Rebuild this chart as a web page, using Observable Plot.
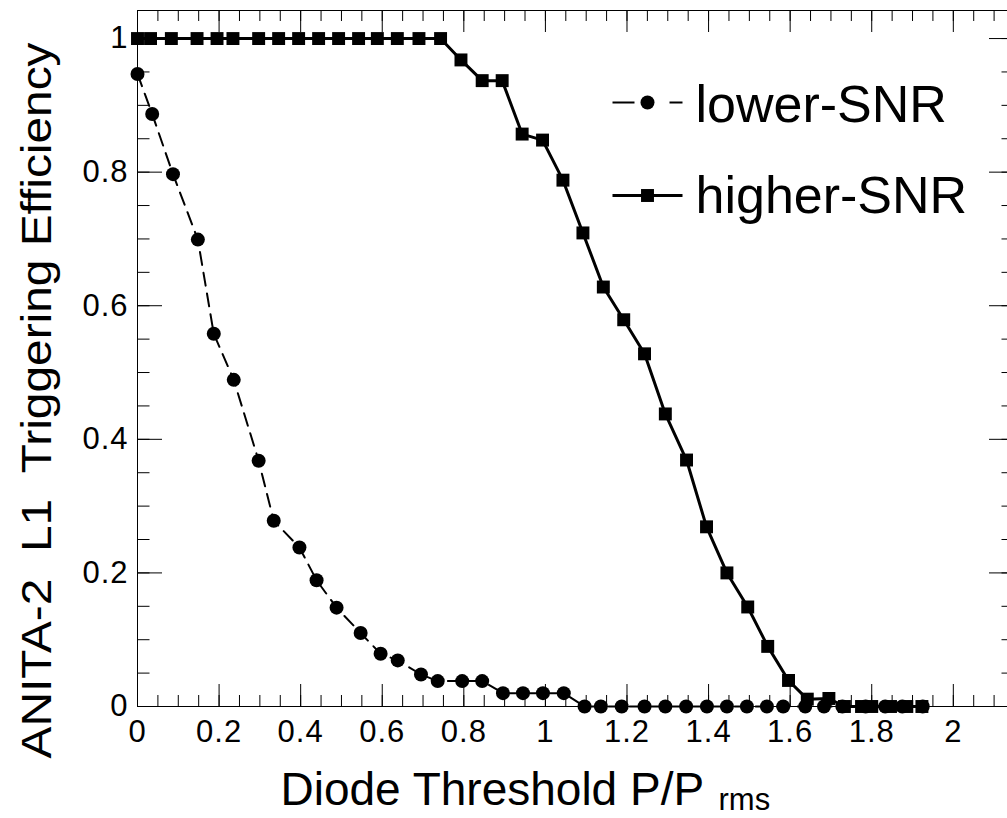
<!DOCTYPE html>
<html><head><meta charset="utf-8">
<script src="https://cdn.jsdelivr.net/npm/d3@7"></script>
<script src="https://cdn.jsdelivr.net/npm/@observablehq/plot@0.6"></script>
<style>
html,body{margin:0;padding:0;background:#fff;overflow:hidden;}
#chart{width:1007px;height:818px;overflow:hidden;position:relative;}
#chart svg{overflow:hidden;display:block;}
#chart svg g[aria-label="x-axis tick label"] text,
#chart svg g[aria-label="y-axis tick label"] text{letter-spacing:1px;}
</style></head><body><div id="chart"></div>
<script>
// ---- data ----
const lowerX = [0, 0.036, 0.087, 0.148, 0.187, 0.236, 0.297, 0.334, 0.397, 0.439, 0.488, 0.547, 0.596, 0.638, 0.695, 0.736, 0.796, 0.845, 0.896, 0.945, 0.994, 1.045,
  1.096, 1.136, 1.187, 1.243, 1.294, 1.345, 1.396, 1.445, 1.494, 1.543, 1.583, 1.637, 1.683, 1.728, 1.785, 1.833, 1.875, 1.925];
const lowerY = [0.947, 0.887, 0.797, 0.699, 0.558, 0.489, 0.368, 0.278, 0.238, 0.189, 0.148, 0.110, 0.079, 0.069, 0.048, 0.038, 0.038, 0.038, 0.020, 0.020, 0.020, 0.020,
  0, 0, 0, 0, 0, 0, 0, 0, 0, 0, 0, 0, 0, 0, 0, 0, 0, 0];
const higherX = [0, 0.032, 0.083, 0.146, 0.195, 0.234, 0.297, 0.346, 0.395, 0.444, 0.493, 0.542, 0.588, 0.637, 0.690, 0.743,
  0.793, 0.845, 0.894, 0.943, 0.993, 1.043, 1.092, 1.142, 1.192, 1.243, 1.294, 1.346, 1.395, 1.445, 1.496, 1.545, 1.596,
  1.642, 1.695, 1.733, 1.775, 1.800, 1.846, 1.886, 1.923];
const higherY = [1, 1, 1, 1, 1, 1, 1, 1, 1, 1, 1, 1, 1, 1, 1, 1,
  0.968, 0.937, 0.937, 0.857, 0.848, 0.788, 0.709, 0.628, 0.579, 0.528, 0.438, 0.369, 0.269, 0.200, 0.149, 0.090, 0.039,
  0.011, 0.012, 0, 0, 0, 0, 0, 0];
const seriesNames = ["lower-SNR", "higher-SNR"];
const xTickLabels = [0, 0.2, 0.4, 0.6, 0.8, 1, 1.2, 1.4, 1.6, 1.8, 2];
const yTickLabels = [0, 0.2, 0.4, 0.6, 0.8, 1];
const xTitle = "Diode Threshold P/P";
const xTitleSub = "rms";
const yTitle = "ANITA-2  L1  Triggering Efficiency";

// ---- build tables ----
const lower = lowerX.map((x, i) => ({x, y: lowerY[i]}));
const higher = higherX.map((x, i) => ({x, y: higherY[i]}));
const minorX = d3.range(0, 44).map(i => +(i * 0.05).toFixed(2));
const majorX = d3.range(0, 11).map(i => +(i * 0.2).toFixed(2));
const minorY = d3.range(0, 21).map(i => +(i * 0.05).toFixed(2));
const majorY = d3.range(0, 6).map(i => +(i * 0.2).toFixed(2));
const fmt = d => String(+(+d).toFixed(2));

const W = 1007, H = 818, mL = 137, mT = 10, mB = 112, mR = -7;
const plotH = H - mT - mB, plotW = W - mL - mR;
const font = "'Liberation Sans', Arial, Helvetica, sans-serif";

const chart = Plot.plot({
  width: W, height: H,
  marginLeft: mL, marginTop: mT, marginBottom: mB, marginRight: mR,
  style: {fontFamily: font, background: "white", color: "black", overflow: "hidden"},
  x: {domain: [0, 2.15]},
  y: {domain: [0, 1.042]},
  marks: [
    Plot.frame({stroke: "black", strokeWidth: 1}),
    Plot.ruleX(minorX, {x: d => d, insetTop: plotH - 11, stroke: "black"}),
    Plot.ruleX(majorX, {x: d => d, insetTop: plotH - 22, stroke: "black"}),
    Plot.ruleX(minorX, {x: d => d, insetBottom: plotH - 11, stroke: "black"}),
    Plot.ruleX(majorX, {x: d => d, insetBottom: plotH - 22, stroke: "black"}),
    Plot.ruleY(minorY, {y: d => d, insetRight: plotW - 12.5, stroke: "black"}),
    Plot.ruleY(majorY, {y: d => d, insetRight: plotW - 25, stroke: "black"}),
    Plot.ruleY(minorY, {y: d => d, insetLeft: plotW - 12.5, stroke: "black"}),
    Plot.ruleY(majorY, {y: d => d, insetLeft: plotW - 25, stroke: "black"}),
    Plot.axisX({ticks: xTickLabels, tickSize: 0, tickPadding: 13, fontSize: 31, label: null, tickFormat: fmt}),
    Plot.axisY({ticks: yTickLabels, tickSize: 0, tickPadding: 9, fontSize: 31, label: null, tickFormat: fmt}),
    Plot.line(lower, {x: "x", y: "y", stroke: "black", strokeWidth: 2, strokeDasharray: "13,8"}),
    Plot.dot(lower, {x: "x", y: "y", r: 7, symbol: "circle", fill: "black", stroke: "none"}),
    Plot.line(higher, {x: "x", y: "y", stroke: "black", strokeWidth: 3}),
    Plot.dot(higher, {x: "x", y: "y", r: 7.3, symbol: "square", fill: "black", stroke: "none"}),
    // legend
    Plot.vector([seriesNames[0]], {frameAnchor: "top-left", anchor: "start", rotate: 90, length: 22, r: 0, dx: 475, dy: 92, stroke: "black", strokeWidth: 2, strokeLinecap: "butt"}),
    Plot.vector([seriesNames[0]], {frameAnchor: "top-left", anchor: "start", rotate: 90, length: 13, r: 0, dx: 532, dy: 92, stroke: "black", strokeWidth: 2, strokeLinecap: "butt"}),
    Plot.dot([seriesNames[0]], {frameAnchor: "top-left", dx: 510, dy: 92, r: 7, symbol: "circle", fill: "black"}),
    Plot.text([seriesNames[0]], {frameAnchor: "top-left", text: d => d, dx: 558, dy: 95, textAnchor: "start", lineAnchor: "middle", fontSize: 52}),
    Plot.vector([seriesNames[1]], {frameAnchor: "top-left", anchor: "start", rotate: 90, length: 70, r: 0, dx: 475, dy: 185, stroke: "black", strokeWidth: 3, strokeLinecap: "butt"}),
    Plot.dot([seriesNames[1]], {frameAnchor: "top-left", dx: 510, dy: 185, r: 7.3, symbol: "square", fill: "black"}),
    Plot.text([seriesNames[1]], {frameAnchor: "top-left", text: d => d, dx: 558, dy: 186, textAnchor: "start", lineAnchor: "middle", fontSize: 52}),
    // axis titles
    Plot.text([xTitle], {frameAnchor: "bottom-left", text: d => d, dx: 143, dy: 98, textAnchor: "start", lineAnchor: "bottom", fontSize: 46}),
    Plot.text([xTitleSub], {frameAnchor: "bottom-left", text: d => d, dx: 581, dy: 103, textAnchor: "start", lineAnchor: "bottom", fontSize: 31}),
    Plot.text([yTitle], {frameAnchor: "left", text: d => d, rotate: -90, dx: -87, dy: 42, textAnchor: "middle", lineAnchor: "bottom", fontSize: 42})
  ]
});
document.getElementById("chart").appendChild(chart);
// stretch the y title along its length like the reference (still real text)
d3.select(chart).selectAll("text").filter(function() { return this.textContent === yTitle; })
  .attr("textLength", 716).attr("lengthAdjust", "spacingAndGlyphs");
</script></body></html>
